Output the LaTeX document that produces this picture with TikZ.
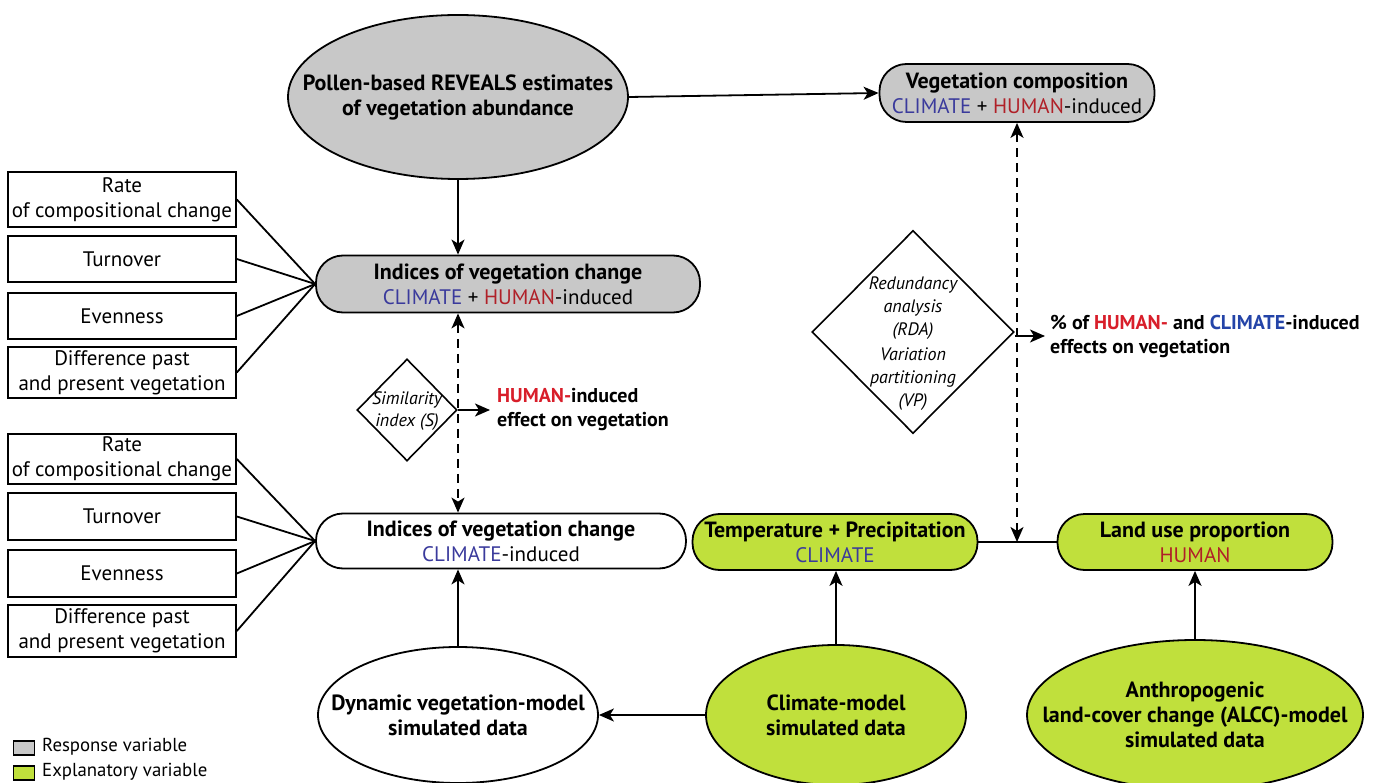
\documentclass[tikz,border=0pt]{standalone}
\usepackage{fontspec}
\setmainfont{PT Sans}
\usetikzlibrary{shapes.geometric,arrows.meta}
\definecolor{respgray}{HTML}{C8C8C8}
\definecolor{expgreen}{HTML}{C0E03C}
\definecolor{climblue}{HTML}{3A3A9C}
\definecolor{humred}{HTML}{B02028}
\definecolor{bhumred}{HTML}{D81E2A}
\definecolor{bclimblue}{HTML}{2444A8}
\newcommand{\climtxt}{\textcolor{climblue}{CLIMATE}}
\newcommand{\humtxt}{\textcolor{humred}{HUMAN}}
\newcommand{\fs}{\fontsize{21}{25}\selectfont}
\newcommand{\fb}{\fontsize{22}{25}\selectfont\bfseries}
\newcommand{\fr}{\fontsize{20}{24}\selectfont\bfseries}
\tikzset{
  every node/.style={font=\fs},
  rbox/.style={draw, line width=1.8pt, rounded corners=27pt, align=center, inner sep=0pt},
  sbox/.style={draw, line width=1.6pt, minimum width=228pt, align=center, inner sep=0pt},
  ell/.style={draw, ellipse, line width=1.8pt, inner sep=0pt},
  dia/.style={draw, diamond, line width=1.6pt, inner sep=0pt},
  conn/.style={line width=1.8pt},
  arr/.style={line width=1.8pt, -{Stealth[length=15pt,width=13pt,inset=4pt]}},
  darr/.style={line width=1.8pt, dashed, dash pattern=on 9pt off 6pt, {Stealth[length=15pt,width=13pt,inset=4pt]}-{Stealth[length=15pt,width=13pt,inset=4pt]}},
  txt/.style={align=center, inner sep=0pt},
  legsq/.style={draw, line width=1.4pt, minimum width=21pt, minimum height=14pt, inner sep=0pt}
}
\begin{document}
\begin{tikzpicture}[x=1pt,y=-1pt]
\useasboundingbox (0,0) rectangle (1378,783);

% top ellipse
\node[ell, fill=respgray, minimum width=340pt, minimum height=164pt] (pollen) at (458,97) {};
\node[txt, font=\fb] (pollent) at (pollen.center) {Pollen-based REVEALS estimates\\of vegetation abundance};

% vegetation composition
\node[rbox, fill=respgray, minimum width=275pt, minimum height=58pt] (vegcomp) at (1017,93)
  {{\fb Vegetation composition}\\\climtxt{} + \humtxt-induced};

% indices 1
\node[rbox, fill=respgray, minimum width=384pt, minimum height=57pt] (ind1) at (508,284)
  {{\fb Indices of vegetation change}\\\climtxt{} + \humtxt-induced};

% indices 2
\node[rbox, fill=white, minimum width=370pt, minimum height=55pt] (ind2) at (501,541)
  {{\fb Indices of vegetation change}\\\climtxt-induced};

% temperature, land use
\node[rbox, fill=expgreen, minimum width=285pt, minimum height=56pt] (temp) at (835,542)
  {{\fb Temperature + Precipitation}\\\climtxt};
\node[rbox, fill=expgreen, minimum width=275pt, minimum height=56pt] (land) at (1195,542)
  {{\fb Land use proportion}\\\humtxt};

% bottom ellipses
\node[ell, fill=white, minimum width=280pt, minimum height=136pt] (dyn) at (458,715) {};
\node[txt, font=\fb] (dynt) at (dyn.center) {Dynamic vegetation-model\\simulated data};
\node[ell, fill=expgreen, minimum width=260pt, minimum height=140pt] (clim) at (836,715) {};
\node[txt, font=\fb] (climt) at (clim.center) {Climate-model\\simulated data};
\node[ell, fill=expgreen, minimum width=336pt, minimum height=150pt] (alcc) at (1195,715) {};
\node[txt, font=\fb] (alcct) at (alcc.center) {Anthropogenic\\land-cover change (ALCC)-model\\simulated data};

% left boxes top
\node[sbox, minimum height=55pt] (a1) at (122,199.5) {Rate\\of compositional change};
\node[sbox, minimum height=46pt] (a2) at (122,259) {Turnover};
\node[sbox, minimum height=46pt] (a3) at (122,316) {Evenness};
\node[sbox, minimum height=51pt] (a4) at (122,372.5) {Difference past\\and present vegetation};
% left boxes bottom
\node[sbox, minimum height=50pt] (b1) at (122,459) {Rate\\of compositional change};
\node[sbox, minimum height=47pt] (b2) at (122,516.5) {Turnover};
\node[sbox, minimum height=47pt] (b3) at (122,573.5) {Evenness};
\node[sbox, minimum height=52pt] (b4) at (122,631) {Difference past\\and present vegetation};

% diamonds
\node[dia, fill=white, minimum width=100pt, minimum height=102pt] (sim) at (407,410) {};
\node[txt, font=\fontsize{18}{22}\selectfont\itshape] (simt) at (407,411) {Similarity\\index (S)};
\node[dia, fill=white, minimum width=202pt, minimum height=203pt] (rda) at (913,332) {};
\node[txt, font=\fontsize{18}{23}\selectfont\itshape] (rdat) at (913,344) {Redundancy\\analysis\\(RDA)\\[2pt]Variation\\partitioning\\(VP)};

% result texts
\node[txt, anchor=west, align=left, font=\fr] (humeff) at (497,410)
  {\textcolor{bhumred}{HUMAN-}induced\\effect on vegetation};
\node[txt, anchor=west, align=left, font=\fr] (pcteff) at (1050,336)
  {\% of \textcolor{bhumred}{HUMAN-} and \textcolor{bclimblue}{CLIMATE}-induced\\effects on vegetation};

% connectors
\draw[arr] (pollen.east) -- (vegcomp.west);
\draw[arr] (pollen.south) -- (pollen.south |- ind1.north);
\foreach \n in {a1,a2,a3,a4} \draw[conn] (\n.east) -- (ind1.west);
\foreach \n in {b1,b2,b3,b4} \draw[conn] (\n.east) -- (ind2.west);
\draw[darr] (pollen.south |- ind1.south) -- (pollen.south |- ind2.north);
\coordinate (simend) at (490,410);
\draw[arr] (sim.east) -- (simend);
\coordinate (rdaend) at (1045,336);
\draw[arr] (rda.east |- rdaend) -- (rdaend);
\draw[conn] (temp.east) -- (land.west);
\coordinate (junc) at (vegcomp.south |- temp.east);
\draw[darr] (vegcomp.south) -- (junc);
\draw[arr] (dyn.north) -- (dyn.north |- ind2.south);
\draw[arr] (clim.north) -- (clim.north |- temp.south);
\draw[arr] (alcc.north) -- (alcc.north |- land.south);
\draw[arr] (clim.west) -- (dyn.east);

% legend
\node[legsq, fill=respgray] (lg1) at (24,748) {};
\node[anchor=west, inner sep=0pt, font=\fontsize{18.8}{22}\selectfont] (lg1t) at (42,747) {Response variable};
\node[legsq, fill=expgreen] (lg2) at (24,773) {};
\node[anchor=west, inner sep=0pt, font=\fontsize{18.8}{22}\selectfont] (lg2t) at (42,772) {Explanatory variable};
\end{tikzpicture}
\end{document}
